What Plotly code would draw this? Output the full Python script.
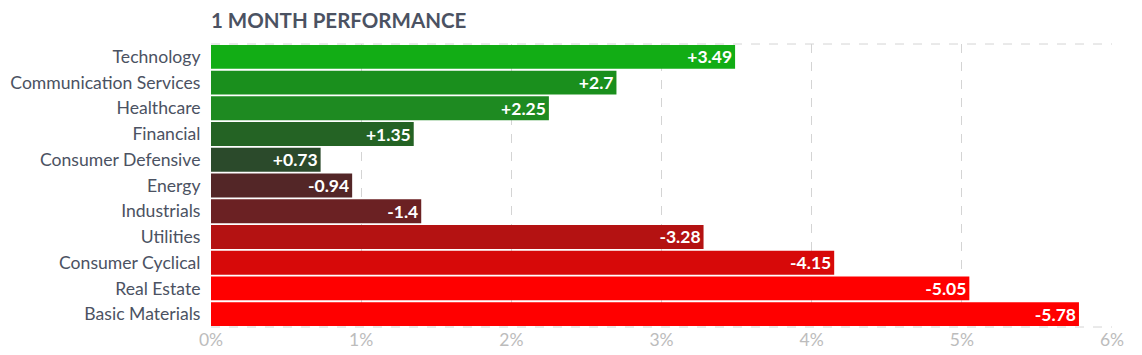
import plotly.graph_objects as go

sectors = ["Technology", "Communication Services", "Healthcare", "Financial",
           "Consumer Defensive", "Energy", "Industrials", "Utilities",
           "Consumer Cyclical", "Real Estate", "Basic Materials"]
values = [3.49, 2.7, 2.25, 1.35, 0.73, -0.94, -1.4, -3.28, -4.15, -5.05, -5.78]
colors = ["#12ad15", "#1a8f1d", "#1e8a21", "#246324", "#2b4a2b", "#532627",
          "#6b2123", "#b41212", "#d70909", "#ff0000", "#ff0000"]
x_ticks = [0, 1, 2, 3, 4, 5, 6]

font = "Lato"
W, H = 1134, 347  # page body margin of 8px offsets the figure

fig = go.Figure(go.Bar(
    y=sectors,
    x=[abs(v) for v in values],
    orientation="h",
    marker=dict(color=colors, line=dict(width=0)),
    text=[f"{v:+g}" for v in values],
    textposition="inside",
    insidetextanchor="end",
    textfont=dict(family=font, size=17.5, color="white", weight="bold"),
    constraintext="none",
    hoverinfo="skip",
))

fig.update_layout(
    width=W, height=H,
    margin=dict(l=203, r=30, t=36, b=28),
    paper_bgcolor="white", plot_bgcolor="white",
    bargap=0.07,
    showlegend=False,
    title=dict(text="<b>1 MONTH PERFORMANCE</b>", x=203 / W, xanchor="left",
               y=1 - 12.8 / H, yanchor="middle",
               font=dict(family=font, size=20.5, color="#4b5262")),
    xaxis=dict(range=[0, 6], tickmode="array", tickvals=x_ticks,
               ticktext=[f"{t}%" for t in x_ticks], automargin=False,
               showgrid=True, gridcolor="#d4d4d4", griddash="dash", gridwidth=1,
               zeroline=False, showline=False,
               tickfont=dict(family=font, size=17.5, color="#bcbcbc"),
               ticks=""),
    yaxis=dict(autorange="reversed", showgrid=False, zeroline=False, automargin=False,
               tickfont=dict(family=font, size=17.6, color="#4b5262"),
               ticks="outside", ticklen=6, tickcolor="rgba(0,0,0,0)"),
    shapes=[
        dict(type="line", xref="x domain", yref="y domain", x0=0, x1=1, y0=1, y1=1,
             line=dict(color="#d4d4d4", width=1, dash="dash"), layer="below"),
        dict(type="line", xref="x domain", yref="y domain", x0=0, x1=1, y0=0, y1=0,
             line=dict(color="#d4d4d4", width=1, dash="dash"), layer="below"),
    ],
)

fig.write_html("out.html")
